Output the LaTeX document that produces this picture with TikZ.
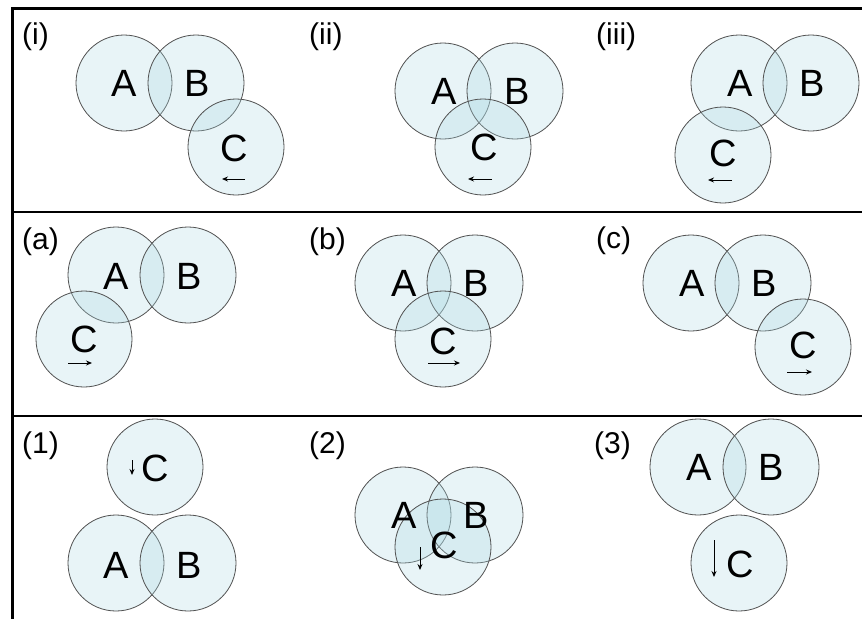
\documentclass[tikz,border=0pt]{standalone}
\usepackage{fontspec}
\setmainfont{Liberation Sans}
\usetikzlibrary{arrows.meta}
\definecolor{vfill}{RGB}{172,218,228}
\definecolor{vline}{RGB}{80,80,80}
\begin{document}
\begin{tikzpicture}[x=1pt,y=-1pt,
  circ/.style={circle,minimum size=96pt,inner sep=0pt,fill=vfill,fill opacity=0.27,draw=vline,line width=0.8pt},
  letter/.style={inner sep=0pt,font=\fontsize{38}{38}\selectfont},
  plabel/.style={anchor=west,inner sep=0pt,font=\fontsize{30}{30}\selectfont},
  arr/.style={-{Stealth[length=6pt,width=5pt]},line width=0.9pt},
  frame/.style={line width=3pt},
  divider/.style={line width=1.2pt}]
\useasboundingbox (0,0) rectangle (862,619);
\fill[white] (0,0) rectangle (862,619);
% frame
\coordinate (tl) at (12,8);
\coordinate (tr) at (862,8);
\coordinate (bl) at (12,619);
\coordinate (d1l) at (12,212);
\coordinate (d1r) at (862,212);
\coordinate (d2l) at (12,416);
\coordinate (d2r) at (862,416);
\draw[frame] (tr) -- (tl) -- (bl);
\draw[divider] (d1l) -- (d1r);
\draw[divider] (d2l) -- (d2r);
% ---------- circles ----------
% (i)
\node[circ] (iA) at (124,83) {};
\node[circ] (iB) at (196,83) {};
\node[circ] (iC) at (236,147) {};
% (ii)
\node[circ] (iiA) at (443,91) {};
\node[circ] (iiB) at (515,91) {};
\node[circ] (iiC) at (483,147) {};
% (iii)
\node[circ] (iiiA) at (739,83) {};
\node[circ] (iiiB) at (811,83) {};
\node[circ] (iiiC) at (723,155) {};
% (a)
\node[circ] (aA) at (116,275) {};
\node[circ] (aB) at (188,275) {};
\node[circ] (aC) at (84,339) {};
% (b)
\node[circ] (bA) at (403,283) {};
\node[circ] (bB) at (475,283) {};
\node[circ] (bC) at (443,339) {};
% (c)
\node[circ] (cA) at (691,283) {};
\node[circ] (cB) at (763,283) {};
\node[circ] (cC) at (803,347) {};
% (1)
\node[circ] (oC) at (155,467) {};
\node[circ] (oA) at (116,563) {};
\node[circ] (oB) at (188,563) {};
% (2)
\node[circ] (tA) at (403,515) {};
\node[circ] (tB) at (475,515) {};
\node[circ] (tC) at (443,547) {};
% (3)
\node[circ] (hA) at (698,467) {};
\node[circ] (hB) at (771,467) {};
\node[circ] (hC) at (739,563) {};
% ---------- letters ----------
\node[letter] (liA) at (124,83) {A};
\node[letter] (liB) at (197,83) {B};
\node[letter] (liC) at (234,148) {C};
\node[letter] (liiA) at (444,91) {A};
\node[letter] (liiB) at (517,91) {B};
\node[letter] (liiC) at (484,147) {C};
\node[letter] (liiiA) at (740,83) {A};
\node[letter] (liiiB) at (812,83) {B};
\node[letter] (liiiC) at (723,153) {C};
\node[letter] (laA) at (116,276) {A};
\node[letter] (laB) at (189,276) {B};
\node[letter] (laC) at (84,339) {C};
\node[letter] (lbA) at (404,283) {A};
\node[letter] (lbB) at (476,283) {B};
\node[letter] (lbC) at (443,341) {C};
\node[letter] (lcA) at (692,283) {A};
\node[letter] (lcB) at (764,283) {B};
\node[letter] (lcC) at (803,345) {C};
\node[letter] (loC) at (155,468) {C};
\node[letter] (loA) at (116,565) {A};
\node[letter] (loB) at (189,565) {B};
\node[letter] (ltA) at (404,515) {A};
\node[letter] (ltB) at (476,515) {B};
\node[letter] (ltC) at (444,545) {C};
\node[letter] (lhA) at (699,467) {A};
\node[letter] (lhB) at (771,467) {B};
\node[letter] (lhC) at (740,564) {C};
% ---------- panel labels ----------
\node[plabel] (pi) at (22,37) {(i)};
\node[plabel] (pii) at (309,37) {(ii)};
\node[plabel] (piii) at (596,37) {(iii)};
\node[plabel] (pa) at (22,242) {(a)};
\node[plabel] (pb) at (309,242) {(b)};
\node[plabel] (pc) at (596,241) {(c)};
\node[plabel] (p1) at (22,446) {(1)};
\node[plabel] (p2) at (309,446) {(2)};
\node[plabel] (p3) at (594,446) {(3)};
% ---------- arrows ----------
\coordinate (ai1) at (245,179); \coordinate (ai2) at (222,179);
\coordinate (aii1) at (492,179); \coordinate (aii2) at (468,179);
\coordinate (aiii1) at (732,180); \coordinate (aiii2) at (708,180);
\coordinate (aa1) at (68,363); \coordinate (aa2) at (92,363);
\coordinate (ab1) at (428,363); \coordinate (ab2) at (460,363);
\coordinate (ac1) at (787,372); \coordinate (ac2) at (812,372);
\coordinate (ao1) at (132,460); \coordinate (ao2) at (132,475);
\coordinate (at1) at (420,547); \coordinate (at2) at (420,570);
\coordinate (ah1) at (714,540); \coordinate (ah2) at (714,577);
\draw[arr] (ai1) -- (ai2);
\draw[arr] (aii1) -- (aii2);
\draw[arr] (aiii1) -- (aiii2);
\draw[arr] (aa1) -- (aa2);
\draw[arr] (ab1) -- (ab2);
\draw[arr] (ac1) -- (ac2);
\draw[arr] (ao1) -- (ao2);
\draw[arr] (at1) -- (at2);
\draw[arr] (ah1) -- (ah2);
\end{tikzpicture}
\end{document}
